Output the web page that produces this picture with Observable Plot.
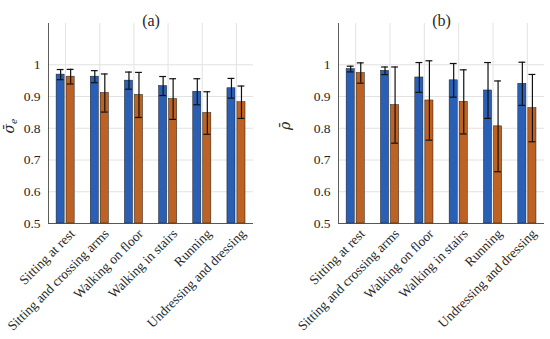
<!DOCTYPE html>
<html>
<head>
<meta charset="utf-8">
<script src="https://cdn.jsdelivr.net/npm/d3@7"></script>
<script src="https://cdn.jsdelivr.net/npm/@observablehq/plot@0.6"></script>
<style>
  body { margin: 0; background: #fff; }
  #wrap { display: flex; width: 550px; height: 339px; }
  svg text { font-family: "Liberation Serif", serif; }
  svg text.ylab { font-family: "DejaVu Serif", serif; }
</style>
</head>
<body>
<div id="wrap"></div>
<script>
const categories = ["Sitting at rest", "Sitting and crossing arms", "Walking on floor", "Walking in stairs", "Running", "Undressing and dressing"];
const yTicks = [0.5, 0.6, 0.7, 0.8, 0.9, 1];

// Panel (a): sigma_e
const sigmaA = [0.969, 0.9625, 0.950, 0.933, 0.915, 0.926];
const sigmaAErr = [0.016, 0.019, 0.027, 0.030, 0.041, 0.031];
const sigmaB = [0.9625, 0.911, 0.905, 0.892, 0.848, 0.882];
const sigmaBErr = [0.023, 0.060, 0.071, 0.064, 0.067, 0.051];

// Panel (b): rho
const rhoA = [0.9865, 0.981, 0.960, 0.951, 0.919, 0.940];
const rhoAErr = [0.009, 0.012, 0.047, 0.053, 0.088, 0.068];
const rhoB = [0.974, 0.873, 0.8875, 0.883, 0.806, 0.8635];
const rhoBErr = [0.032, 0.120, 0.125, 0.101, 0.143, 0.106];

const BLUE = "#2a5fb6";
const ORANGE = "#bd6222";
const Y0 = 0.5, YMAX = 1.13;

function panel(title, ylab, m1, e1, m2, e2, mL, mR, labDx) {
  const rows = categories.map((c, i) => ({i: i + 1, c, m1: m1[i], e1: e1[i], m2: m2[i], e2: e2[i]}));
  const hw = 0.118, cap = 0.1;
  const series = [{off: -0.145, m: "m1", e: "e1", fill: BLUE}, {off: 0.148, m: "m2", e: "e2", fill: ORANGE}];
  const marks = [
    Plot.gridY({ticks: yTicks, stroke: "#e2e2e2", strokeOpacity: 1}),
    Plot.gridX({ticks: [1,2,3,4,5,6], stroke: "#e2e2e2", strokeOpacity: 1}),
  ];
  for (const s of series) {
    marks.push(Plot.rectY(rows, {x1: d => d.i + s.off - hw, x2: d => d.i + s.off + hw, y1: Y0, y2: d => d[s.m], fill: s.fill, stroke: "#1a1a1a", strokeWidth: 0.5}));
  }
  for (const s of series) {
    marks.push(Plot.ruleX(rows, {x: d => d.i + s.off, y1: d => d[s.m] - d[s.e], y2: d => d[s.m] + d[s.e], stroke: "#111", strokeWidth: 1.2}));
    marks.push(Plot.ruleY(rows, {y: d => d[s.m] - d[s.e], x1: d => d.i + s.off - cap, x2: d => d.i + s.off + cap, stroke: "#111", strokeWidth: 1.2}));
    marks.push(Plot.ruleY(rows, {y: d => d[s.m] + d[s.e], x1: d => d.i + s.off - cap, x2: d => d.i + s.off + cap, stroke: "#111", strokeWidth: 1.2}));
  }
  marks.push(
    Plot.ruleX([0.5], {stroke: "#333", strokeWidth: 0.8}),
    Plot.ruleY([Y0], {stroke: "#333", strokeWidth: 0.8}),
    Plot.axisY({ticks: yTicks, tickFormat: d => d === 1 ? "1" : d.toFixed(1), tickSize: 0, tickPadding: 8, label: null, fontSize: 13.5}),
    Plot.axisX({ticks: [1,2,3,4,5,6], tickFormat: i => categories[i - 1], tickRotate: -45, tickSize: 0, tickPadding: 4, label: null, fontSize: 13.5, dx: 7, dy: 4}),
    Plot.text([title], {frameAnchor: "top", dy: -9, fontSize: 16, text: d => d})
  );
  const svg = Plot.plot({
    width: 275, height: 339,
    marginLeft: mL, marginRight: mR, marginTop: 23, marginBottom: 116,
    x: {type: "linear", domain: [0.5, 6.5]},
    y: {domain: [Y0, YMAX]},
    style: {fontFamily: "Liberation Serif, serif", fontSize: "13.5px", color: "#262626", background: "#fff"},
    marks
  });
  const h = 126;
  const t = d3.select(svg).append("text")
    .attr("class", "ylab")
    .attr("transform", `translate(${mL - labDx},${h}) rotate(-90)`)
    .attr("text-anchor", "middle")
    .attr("font-size", 14)
    .attr("fill", "#262626");
  t.append("tspan").attr("font-style", "italic").text(ylab[0]);
  if (ylab[1]) t.append("tspan").attr("font-style", "italic").attr("font-size", 9).attr("dy", 3).text(ylab[1]);
  return svg;
}

const wrap = document.getElementById("wrap");
wrap.appendChild(panel("(a)", ["σ\u0304", "e"], sigmaA, sigmaAErr, sigmaB, sigmaBErr, 48, 22, 34));
wrap.appendChild(panel("(b)", ["ρ\u0304"], rhoA, rhoAErr, rhoB, rhoBErr, 63, 6, 48));
</script>
</body>
</html>
